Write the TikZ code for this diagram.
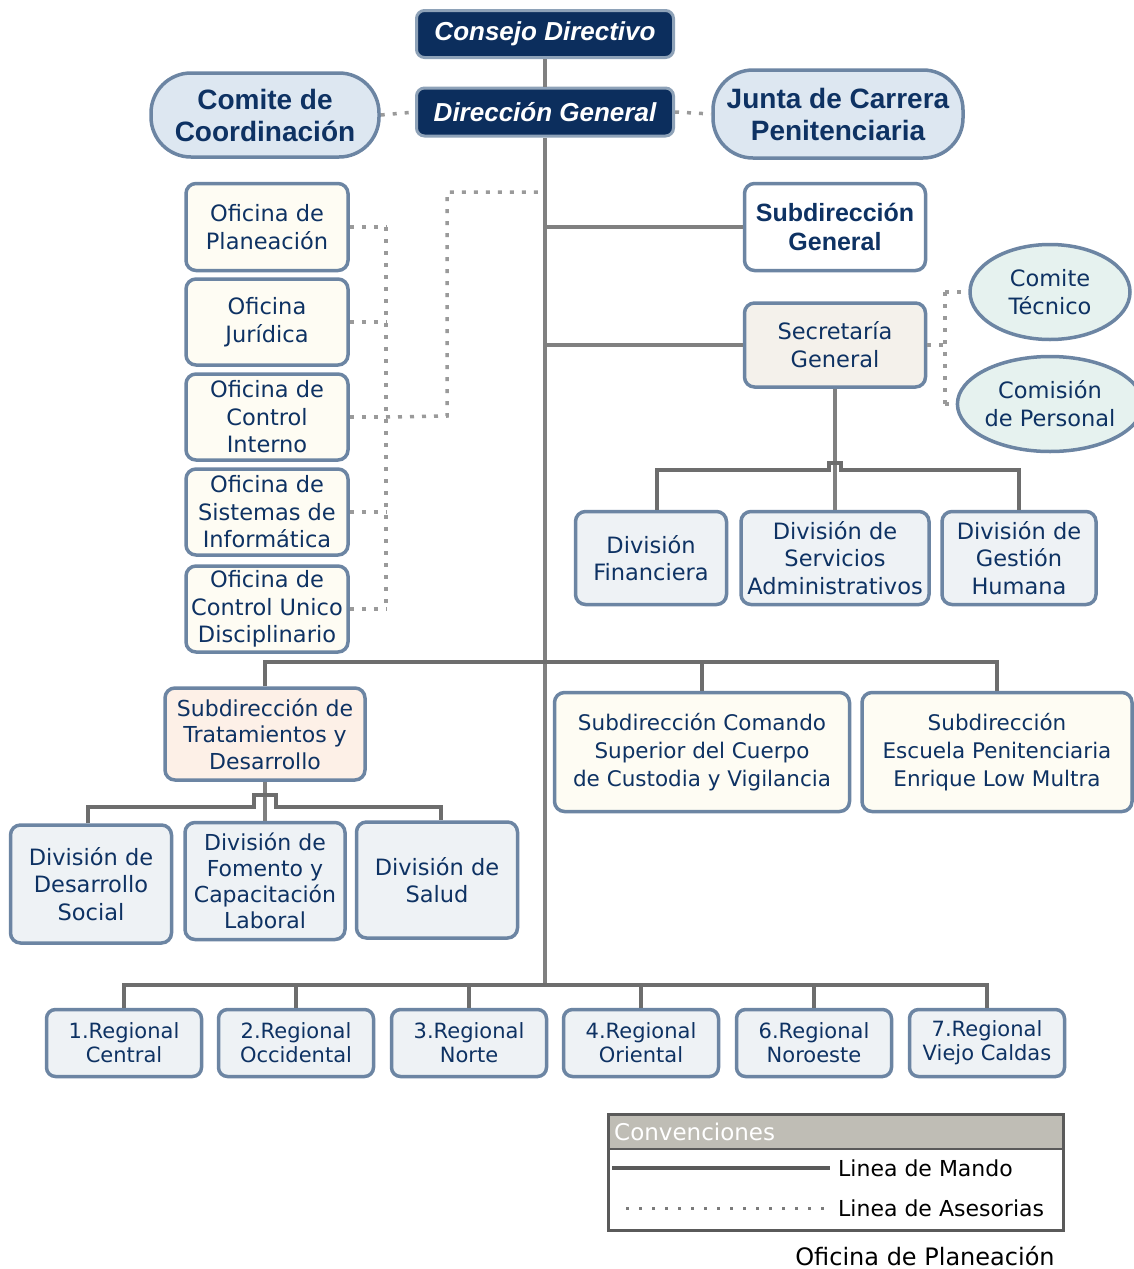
\documentclass[tikz,border=0pt]{standalone}
\usepackage{fontspec}
\setmainfont{Liberation Sans}
\newfontfamily\dvs{DejaVu Sans}
\usetikzlibrary{shapes.geometric}
\definecolor{navy}{HTML}{0C2E5D}
\definecolor{txt}{HTML}{0E3263}
\definecolor{bord}{HTML}{6C85A3}
\definecolor{darkbord}{HTML}{8EA2B8}
\definecolor{pillfill}{HTML}{DDE7F1}
\definecolor{offfill}{HTML}{FEFCF3}
\definecolor{secfill}{HTML}{F4F1EB}
\definecolor{divfill}{HTML}{EEF2F5}
\definecolor{tratfill}{HTML}{FDF0E7}
\definecolor{ellfill}{HTML}{E6F2EF}
\definecolor{linec}{HTML}{808080}
\definecolor{dotc}{HTML}{9A9A9A}
\definecolor{hdr}{HTML}{BFBDB5}
\definecolor{legc}{HTML}{5A5A5A}
\begin{document}
\begin{tikzpicture}[x=1pt,y=-1pt,
  base/.style={draw=bord, line width=3.5pt, rounded corners=10pt, align=center, inner sep=0pt, text=txt},
  dark/.style={base, fill=navy, draw=darkbord, line width=3pt, text=white, rounded corners=8pt,
    minimum width=257pt, font=\fontsize{26}{30}\selectfont\bfseries\itshape},
  pill/.style={base, fill=pillfill, rounded corners=40pt, font=\fontsize{28}{32}\selectfont\bfseries},
  off/.style={base, fill=offfill, minimum width=162pt, minimum height=86pt, font=\dvs\fontsize{22.5}{27.5}\selectfont},
  subbox/.style={base, minimum width=181pt, minimum height=86pt},
  ell/.style={base, ellipse, fill=ellfill, minimum width=160pt, minimum height=95pt, font=\dvs\fontsize{22.5}{28}\selectfont},
  divbox/.style={base, fill=divfill, minimum height=93pt, font=\dvs\fontsize{22.5}{27.5}\selectfont},
  bigsub/.style={base, fill=offfill, minimum height=119pt, font=\dvs\fontsize{21.5}{28}\selectfont},
  regbox/.style={base, fill=divfill, minimum width=155pt, minimum height=67pt, rounded corners=9pt, font=\dvs\fontsize{21}{24}\selectfont},
  mando/.style={draw=linec, line width=4pt},
  bus/.style={draw=linec!85!black, line width=4pt},
  adv/.style={draw=dotc, line width=3.5pt, dash pattern=on 4pt off 8pt},
  legtxt/.style={inner sep=0pt, text=black, font=\dvs\fontsize{22}{26}\selectfont}
]
\useasboundingbox (0,0) rectangle (1133,1269);
\fill[white] (0,0) rectangle (1133,1269);

% coordinates for connectors
\coordinate (mainbot) at (545,985);
\coordinate (dv) at (386,0);
\coordinate (dv2) at (945,0);
\coordinate (dturn) at (447,416);
\coordinate (dturn2) at (447,192);
\coordinate (dtop) at (541,192);
\coordinate (b1) at (835,470);
\coordinate (bus2) at (545,662);
\coordinate (b3) at (265,807);

% top
\node[dark, minimum height=47pt] (cd) at (545,34) {Consejo Directivo};
\node[dark, minimum height=48pt] (dg) at (545,112) {Dirección General};
\node[pill, minimum width=228pt, minimum height=84pt] (cc) at (265,115) {Comite de\\Coordinación};
\node[pill, minimum width=250pt, minimum height=88pt] (jc) at (838,114) {Junta de Carrera\\Penitenciaria};

% offices
\node[off, minimum height=87pt] (ofp) at (267,227) {Oficina de\\Planeación};
\node[off] (ofj) at (267,322) {Oficina\\Jurídica};
\node[off] (ofci) at (267,417) {Oficina de\\Control\\Interno};
\node[off] (ofs) at (267,512) {Oficina de\\Sistemas de\\Informática};
\node[off] (ofu) at (267,609) {Oficina de\\Control Unico\\Disciplinario};

% right upper
\node[subbox, fill=white, minimum height=87pt, font=\fontsize{25}{29}\selectfont\bfseries] (sdg) at (835,227) {Subdirección\\General};
\node[subbox, fill=secfill, minimum height=84pt, font=\dvs\fontsize{22.5}{28}\selectfont] (sec) at (835,345) {Secretaría\\General};
\node[ell] (ct) at (1050,292) {Comite\\Técnico};
\node[ell] (cp) at (1050,404) {Comisión\\de Personal};

\node[divbox, minimum width=151pt] (dfin) at (651,558) {División\\Financiera};
\node[divbox, minimum width=188pt] (dserv) at (835,558) {División de\\Servicios\\Administrativos};
\node[divbox, minimum width=154pt] (dgh) at (1019,558) {División de\\Gestión\\Humana};

% middle row
\node[base, fill=tratfill, minimum width=200pt, minimum height=92pt, font=\dvs\fontsize{22}{26.5}\selectfont] (trat) at (265,734) {Subdirección de\\Tratamientos y\\Desarrollo};
\node[bigsub, minimum width=295pt] (com) at (702,752) {Subdirección Comando\\Superior del Cuerpo\\de Custodia y Vigilancia};
\node[bigsub, minimum width=270pt] (esc) at (997,752) {Subdirección\\Escuela Penitenciaria\\Enrique Low Multra};

\node[divbox, minimum width=161pt, minimum height=118pt] (dsoc) at (91,884) {División de\\Desarrollo\\Social};
\node[divbox, minimum width=160pt, minimum height=117pt, font=\dvs\fontsize{22}{26}\selectfont] (fom) at (265,881) {División de\\Fomento y\\Capacitación\\Laboral};
\node[divbox, minimum width=161pt, minimum height=116pt] (sal) at (437,880) {División de\\Salud};

% regionals
\node[regbox] (r1) at (124,1043) {1.Regional\\Central};
\node[regbox] (r2) at (296,1043) {2.Regional\\Occidental};
\node[regbox] (r3) at (469,1043) {3.Regional\\Norte};
\node[regbox] (r4) at (641,1043) {4.Regional\\Oriental};
\node[regbox] (r6) at (814,1043) {6.Regional\\Noroeste};
\node[regbox] (r7) at (987,1043) {7.Regional\\Viejo Caldas};

% command lines
\draw[mando] (cd.south) -- (dg.north);
\draw[mando] (dg.south) -- (mainbot);
\draw[mando] (sdg.west -| mainbot) -- (sdg.west);
\draw[mando] (sec.west -| mainbot) -- (sec.west);
\draw[mando] (sec.south) -- (dserv.north);
\draw[bus] (dfin.north -| 657,0) -- (657,470) -- (829,470) -- (829,463) -- (841,463) -- (841,470) -- (dgh.north |- b1) -- (dgh.north);
\draw[bus] (trat.north) -- (trat.north |- bus2) -- (esc.north |- bus2) -- (esc.north);
\draw[bus] (com.north) -- (com.north |- bus2);
\draw[mando] (trat.south) -- (fom.north);
\draw[bus] (dsoc.north -| 88,0) -- (88,807) -- (254,807) -- (254,795) -- (276,795) -- (276,807) -- (441,807) -- (sal.north -| 441,0);
\draw[bus] (r1.north) -- (r1.north |- mainbot) -- (r7.north |- mainbot) -- (r7.north);
\foreach \r in {r2,r3,r4,r6} \draw[bus] (\r.north) -- (\r.north |- mainbot);

% advisory lines
\draw[adv] (cc.east) -- (dg.west);
\draw[adv] (dg.east) -- (jc.west);
\draw[adv] (ofp.east -| dv) -- (ofu.east -| dv);
\foreach \o in {ofp,ofj,ofci,ofs,ofu} \draw[adv] (\o.east) -- (\o.east -| dv);
\draw[adv] (ofci.east -| dv) -- (dturn) -- (dturn2) -- (dtop);
\draw[adv] (ct.west -| dv2) -- (cp.west -| dv2);
\draw[adv] (sec.east) -- (sec.east -| dv2);
\draw[adv] (ct.west -| dv2) -- (ct.west);
\draw[adv] (cp.west -| dv2) -- (cp.west);

% legend
\node[fill=hdr, inner sep=0pt, minimum width=453pt, minimum height=34pt, anchor=north west] (legh) at (608.5,1114.5) {};
\node[draw=legc, line width=3pt, inner sep=0pt, minimum width=455pt, minimum height=116pt, anchor=north west] (leg) at (607,1113) {};
\draw[draw=legc, line width=2.5pt] (legh.south west) -- (legh.south east);
\node[legtxt, text=white, anchor=west, font=\dvs\fontsize{23}{26}\selectfont] (convt) at (614,1132) {Convenciones};
\coordinate (m1) at (612,1168);
\coordinate (m2) at (830,1168);
\coordinate (a1) at (626,1208);
\coordinate (a2) at (830,1208);
\draw[draw=legc, line width=3.5pt] (m1) -- (m2);
\draw[draw=dotc!80!black, line width=3pt, dash pattern=on 3pt off 10pt] (a1) -- (a2);
\node[legtxt, anchor=west] (lm) at (838,1168) {Linea de Mando};
\node[legtxt, anchor=west] (la) at (838,1208) {Linea de Asesorias};
\node[legtxt, font=\dvs\fontsize{24}{28}\selectfont] (ofpl) at (925,1256) {Oficina de Planeación};
\end{tikzpicture}
\end{document}
